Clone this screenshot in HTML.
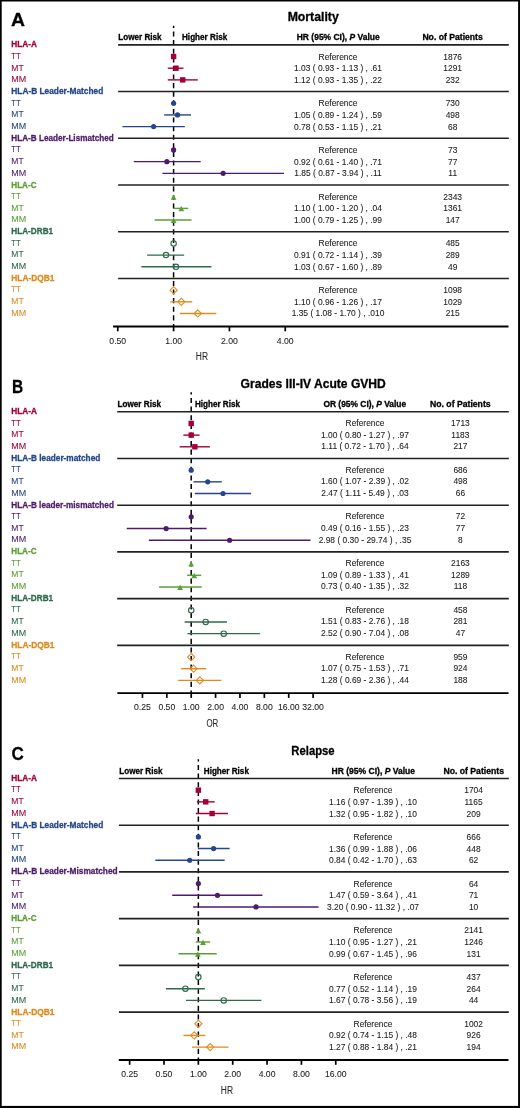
<!DOCTYPE html>
<html><head><meta charset="utf-8"><style>
html,body{margin:0;padding:0;background:#fff;}
svg{display:block;will-change:transform;}
text{font-family:"Liberation Sans",sans-serif;}
</style></head><body>
<svg width="520" height="1108" viewBox="0 0 520 1108">
<rect x="0" y="0" width="520" height="1108" fill="#fff"/>
<text x="10.90" y="26.45" font-size="19.0" font-weight="bold" fill="#000" stroke="#000" stroke-width="0.3" textLength="14.00" lengthAdjust="spacingAndGlyphs">A</text>
<text x="287.65" y="21.20" font-size="12.4" font-weight="bold" fill="#000" stroke="#000" stroke-width="0.3" textLength="51.10" lengthAdjust="spacingAndGlyphs">Mortality</text>
<text x="118.30" y="40.20" font-size="8.6" font-weight="bold" fill="#000" stroke="#000" stroke-width="0.3" textLength="43.20" lengthAdjust="spacingAndGlyphs">Lower Risk</text>
<text x="182.00" y="40.20" font-size="8.6" font-weight="bold" fill="#000" stroke="#000" stroke-width="0.3" textLength="45.20" lengthAdjust="spacingAndGlyphs">Higher Risk</text>
<text x="296.75" y="40.20" font-size="8.6" font-weight="bold" fill="#000" stroke="#000" stroke-width="0.3" textLength="82.90" lengthAdjust="spacingAndGlyphs">HR (95% CI), <tspan font-style="italic">P</tspan> Value</text>
<text x="422.40" y="40.20" font-size="8.6" font-weight="bold" fill="#000" stroke="#000" stroke-width="0.3" textLength="60.40" lengthAdjust="spacingAndGlyphs">No. of Patients</text>
<line x1="173.60" y1="25.80" x2="173.60" y2="326.50" stroke="#000" stroke-width="1.5" stroke-dasharray="5.1 3.5" stroke-dashoffset="2.9"/>
<line x1="118.10" y1="44.85" x2="508.80" y2="44.85" stroke="#222" stroke-width="1.6" />
<line x1="118.10" y1="91.57" x2="508.80" y2="91.57" stroke="#222" stroke-width="1.6" />
<line x1="118.10" y1="138.29" x2="508.80" y2="138.29" stroke="#222" stroke-width="1.6" />
<line x1="118.10" y1="185.01" x2="508.80" y2="185.01" stroke="#222" stroke-width="1.6" />
<line x1="118.10" y1="231.73" x2="508.80" y2="231.73" stroke="#222" stroke-width="1.6" />
<line x1="118.10" y1="278.45" x2="508.80" y2="278.45" stroke="#222" stroke-width="1.6" />
<line x1="113.10" y1="326.50" x2="508.50" y2="326.50" stroke="#000" stroke-width="1.8" />
<line x1="117.77" y1="326.50" x2="117.77" y2="331.30" stroke="#000" stroke-width="1.7" />
<text x="109.35" y="343.80" font-size="9.3" font-weight="normal" fill="#222" stroke="#222" stroke-width="0.08" textLength="16.83" lengthAdjust="spacingAndGlyphs">0.50</text>
<line x1="173.60" y1="326.50" x2="173.60" y2="331.30" stroke="#000" stroke-width="1.7" />
<text x="165.18" y="343.80" font-size="9.3" font-weight="normal" fill="#222" stroke="#222" stroke-width="0.08" textLength="16.83" lengthAdjust="spacingAndGlyphs">1.00</text>
<line x1="229.43" y1="326.50" x2="229.43" y2="331.30" stroke="#000" stroke-width="1.7" />
<text x="221.01" y="343.80" font-size="9.3" font-weight="normal" fill="#222" stroke="#222" stroke-width="0.08" textLength="16.83" lengthAdjust="spacingAndGlyphs">2.00</text>
<line x1="285.26" y1="326.50" x2="285.26" y2="331.30" stroke="#000" stroke-width="1.7" />
<text x="276.84" y="343.80" font-size="9.3" font-weight="normal" fill="#222" stroke="#222" stroke-width="0.08" textLength="16.83" lengthAdjust="spacingAndGlyphs">4.00</text>
<text x="195.80" y="360.30" font-size="11.7" font-weight="normal" fill="#2a2a2a" stroke="#2a2a2a" stroke-width="0.08" textLength="12.20" lengthAdjust="spacingAndGlyphs">HR</text>
<text x="11.30" y="47.35" font-size="9.2" font-weight="bold" fill="#A50034" stroke="#A50034" stroke-width="0.3" textLength="25.70" lengthAdjust="spacingAndGlyphs">HLA-A</text>
<text x="11.30" y="58.83" font-size="8.4" font-weight="normal" fill="#A50034" stroke="#A50034" stroke-width="0.08" textLength="9.40" lengthAdjust="spacingAndGlyphs">TT</text>
<text x="318.58" y="59.53" font-size="9.1" font-weight="normal" fill="#1a1a1a" stroke="#1a1a1a" stroke-width="0.08" textLength="38.84" lengthAdjust="spacingAndGlyphs">Reference</text>
<text x="443.34" y="59.53" font-size="9.1" font-weight="normal" fill="#1a1a1a" stroke="#1a1a1a" stroke-width="0.08" textLength="18.73" lengthAdjust="spacingAndGlyphs">1876</text>
<rect x="170.90" y="53.83" width="5.4" height="5.4" fill="#A50034"/>
<text x="11.30" y="70.51" font-size="8.4" font-weight="normal" fill="#A50034" stroke="#A50034" stroke-width="0.08" textLength="12.30" lengthAdjust="spacingAndGlyphs">MT</text>
<text x="294.02" y="71.21" font-size="9.1" font-weight="normal" fill="#1a1a1a" stroke="#1a1a1a" stroke-width="0.08" textLength="87.97" lengthAdjust="spacingAndGlyphs">1.03 ( 0.93 - 1.13 ) , .61</text>
<text x="443.34" y="71.21" font-size="9.1" font-weight="normal" fill="#1a1a1a" stroke="#1a1a1a" stroke-width="0.08" textLength="18.73" lengthAdjust="spacingAndGlyphs">1291</text>
<line x1="167.75" y1="68.21" x2="183.44" y2="68.21" stroke="#A50034" stroke-width="1.4" />
<rect x="173.28" y="65.51" width="5.4" height="5.4" fill="#A50034"/>
<text x="11.30" y="82.19" font-size="8.4" font-weight="normal" fill="#A50034" stroke="#A50034" stroke-width="0.08" textLength="14.90" lengthAdjust="spacingAndGlyphs">MM</text>
<text x="294.02" y="82.89" font-size="9.1" font-weight="normal" fill="#1a1a1a" stroke="#1a1a1a" stroke-width="0.08" textLength="87.97" lengthAdjust="spacingAndGlyphs">1.12 ( 0.93 - 1.35 ) , .22</text>
<text x="445.68" y="82.89" font-size="9.1" font-weight="normal" fill="#1a1a1a" stroke="#1a1a1a" stroke-width="0.08" textLength="14.04" lengthAdjust="spacingAndGlyphs">232</text>
<line x1="167.75" y1="79.89" x2="197.77" y2="79.89" stroke="#A50034" stroke-width="1.4" />
<rect x="180.03" y="77.19" width="5.4" height="5.4" fill="#A50034"/>
<text x="11.30" y="94.07" font-size="9.2" font-weight="bold" fill="#25468A" stroke="#25468A" stroke-width="0.3" textLength="92.00" lengthAdjust="spacingAndGlyphs">HLA-B Leader-Matched</text>
<text x="11.30" y="105.55" font-size="8.4" font-weight="normal" fill="#25468A" stroke="#25468A" stroke-width="0.08" textLength="9.40" lengthAdjust="spacingAndGlyphs">TT</text>
<text x="318.58" y="106.25" font-size="9.1" font-weight="normal" fill="#1a1a1a" stroke="#1a1a1a" stroke-width="0.08" textLength="38.84" lengthAdjust="spacingAndGlyphs">Reference</text>
<text x="445.68" y="106.25" font-size="9.1" font-weight="normal" fill="#1a1a1a" stroke="#1a1a1a" stroke-width="0.08" textLength="14.04" lengthAdjust="spacingAndGlyphs">730</text>
<circle cx="173.60" cy="103.25" r="2.6" fill="#25468A"/>
<text x="11.30" y="117.23" font-size="8.4" font-weight="normal" fill="#25468A" stroke="#25468A" stroke-width="0.08" textLength="12.30" lengthAdjust="spacingAndGlyphs">MT</text>
<text x="294.02" y="117.93" font-size="9.1" font-weight="normal" fill="#1a1a1a" stroke="#1a1a1a" stroke-width="0.08" textLength="87.97" lengthAdjust="spacingAndGlyphs">1.05 ( 0.89 - 1.24 ) , .59</text>
<text x="445.68" y="117.93" font-size="9.1" font-weight="normal" fill="#1a1a1a" stroke="#1a1a1a" stroke-width="0.08" textLength="14.04" lengthAdjust="spacingAndGlyphs">498</text>
<line x1="164.21" y1="114.93" x2="190.93" y2="114.93" stroke="#25468A" stroke-width="1.4" />
<circle cx="177.53" cy="114.93" r="2.6" fill="#25468A"/>
<text x="11.30" y="128.91" font-size="8.4" font-weight="normal" fill="#25468A" stroke="#25468A" stroke-width="0.08" textLength="14.90" lengthAdjust="spacingAndGlyphs">MM</text>
<text x="294.02" y="129.61" font-size="9.1" font-weight="normal" fill="#1a1a1a" stroke="#1a1a1a" stroke-width="0.08" textLength="87.97" lengthAdjust="spacingAndGlyphs">0.78 ( 0.53 - 1.15 ) , .21</text>
<text x="448.02" y="129.61" font-size="9.1" font-weight="normal" fill="#1a1a1a" stroke="#1a1a1a" stroke-width="0.08" textLength="9.36" lengthAdjust="spacingAndGlyphs">68</text>
<line x1="122.46" y1="126.61" x2="184.86" y2="126.61" stroke="#25468A" stroke-width="1.4" />
<circle cx="153.59" cy="126.61" r="2.6" fill="#25468A"/>
<text x="11.30" y="140.79" font-size="9.2" font-weight="bold" fill="#4E1A6A" stroke="#4E1A6A" stroke-width="0.3" textLength="102.40" lengthAdjust="spacingAndGlyphs">HLA-B Leader-Lismatched</text>
<text x="11.30" y="152.27" font-size="8.4" font-weight="normal" fill="#4E1A6A" stroke="#4E1A6A" stroke-width="0.08" textLength="9.40" lengthAdjust="spacingAndGlyphs">TT</text>
<text x="318.58" y="152.97" font-size="9.1" font-weight="normal" fill="#1a1a1a" stroke="#1a1a1a" stroke-width="0.08" textLength="38.84" lengthAdjust="spacingAndGlyphs">Reference</text>
<text x="448.02" y="152.97" font-size="9.1" font-weight="normal" fill="#1a1a1a" stroke="#1a1a1a" stroke-width="0.08" textLength="9.36" lengthAdjust="spacingAndGlyphs">73</text>
<circle cx="173.60" cy="149.97" r="2.6" fill="#4E1A6A"/>
<text x="11.30" y="163.95" font-size="8.4" font-weight="normal" fill="#4E1A6A" stroke="#4E1A6A" stroke-width="0.08" textLength="12.30" lengthAdjust="spacingAndGlyphs">MT</text>
<text x="294.02" y="164.65" font-size="9.1" font-weight="normal" fill="#1a1a1a" stroke="#1a1a1a" stroke-width="0.08" textLength="87.97" lengthAdjust="spacingAndGlyphs">0.92 ( 0.61 - 1.40 ) , .71</text>
<text x="448.02" y="164.65" font-size="9.1" font-weight="normal" fill="#1a1a1a" stroke="#1a1a1a" stroke-width="0.08" textLength="9.36" lengthAdjust="spacingAndGlyphs">77</text>
<line x1="133.79" y1="161.65" x2="200.70" y2="161.65" stroke="#4E1A6A" stroke-width="1.4" />
<circle cx="166.88" cy="161.65" r="2.6" fill="#4E1A6A"/>
<text x="11.30" y="175.63" font-size="8.4" font-weight="normal" fill="#4E1A6A" stroke="#4E1A6A" stroke-width="0.08" textLength="14.90" lengthAdjust="spacingAndGlyphs">MM</text>
<text x="294.33" y="176.33" font-size="9.1" font-weight="normal" fill="#1a1a1a" stroke="#1a1a1a" stroke-width="0.08" textLength="87.34" lengthAdjust="spacingAndGlyphs">1.85 ( 0.87 - 3.94 ) , .11</text>
<text x="448.33" y="176.33" font-size="9.1" font-weight="normal" fill="#1a1a1a" stroke="#1a1a1a" stroke-width="0.08" textLength="8.74" lengthAdjust="spacingAndGlyphs">11</text>
<line x1="162.38" y1="173.33" x2="284.04" y2="173.33" stroke="#4E1A6A" stroke-width="1.4" />
<circle cx="223.15" cy="173.33" r="2.6" fill="#4E1A6A"/>
<text x="11.30" y="187.51" font-size="9.2" font-weight="bold" fill="#5A9F35" stroke="#5A9F35" stroke-width="0.3" textLength="25.20" lengthAdjust="spacingAndGlyphs">HLA-C</text>
<text x="11.30" y="198.99" font-size="8.4" font-weight="normal" fill="#5A9F35" stroke="#5A9F35" stroke-width="0.08" textLength="9.40" lengthAdjust="spacingAndGlyphs">TT</text>
<text x="318.58" y="199.69" font-size="9.1" font-weight="normal" fill="#1a1a1a" stroke="#1a1a1a" stroke-width="0.08" textLength="38.84" lengthAdjust="spacingAndGlyphs">Reference</text>
<text x="443.34" y="199.69" font-size="9.1" font-weight="normal" fill="#1a1a1a" stroke="#1a1a1a" stroke-width="0.08" textLength="18.73" lengthAdjust="spacingAndGlyphs">2343</text>
<polygon points="173.60,194.44 176.50,199.64 170.70,199.64" fill="#5A9F35"/>
<text x="11.30" y="210.67" font-size="8.4" font-weight="normal" fill="#5A9F35" stroke="#5A9F35" stroke-width="0.08" textLength="12.30" lengthAdjust="spacingAndGlyphs">MT</text>
<text x="294.02" y="211.37" font-size="9.1" font-weight="normal" fill="#1a1a1a" stroke="#1a1a1a" stroke-width="0.08" textLength="87.97" lengthAdjust="spacingAndGlyphs">1.10 ( 1.00 - 1.20 ) , .04</text>
<text x="443.34" y="211.37" font-size="9.1" font-weight="normal" fill="#1a1a1a" stroke="#1a1a1a" stroke-width="0.08" textLength="18.73" lengthAdjust="spacingAndGlyphs">1361</text>
<line x1="173.60" y1="208.37" x2="188.29" y2="208.37" stroke="#5A9F35" stroke-width="1.4" />
<polygon points="181.28,206.12 184.18,211.32 178.38,211.32" fill="#5A9F35"/>
<text x="11.30" y="222.35" font-size="8.4" font-weight="normal" fill="#5A9F35" stroke="#5A9F35" stroke-width="0.08" textLength="14.90" lengthAdjust="spacingAndGlyphs">MM</text>
<text x="294.02" y="223.05" font-size="9.1" font-weight="normal" fill="#1a1a1a" stroke="#1a1a1a" stroke-width="0.08" textLength="87.97" lengthAdjust="spacingAndGlyphs">1.00 ( 0.79 - 1.25 ) , .99</text>
<text x="445.68" y="223.05" font-size="9.1" font-weight="normal" fill="#1a1a1a" stroke="#1a1a1a" stroke-width="0.08" textLength="14.04" lengthAdjust="spacingAndGlyphs">147</text>
<line x1="154.61" y1="220.05" x2="191.57" y2="220.05" stroke="#5A9F35" stroke-width="1.4" />
<polygon points="173.60,217.80 176.50,223.00 170.70,223.00" fill="#5A9F35"/>
<text x="11.30" y="234.23" font-size="9.2" font-weight="bold" fill="#2F6A4C" stroke="#2F6A4C" stroke-width="0.3" textLength="41.80" lengthAdjust="spacingAndGlyphs">HLA-DRB1</text>
<text x="11.30" y="245.71" font-size="8.4" font-weight="normal" fill="#2F6A4C" stroke="#2F6A4C" stroke-width="0.08" textLength="9.40" lengthAdjust="spacingAndGlyphs">TT</text>
<text x="318.58" y="246.41" font-size="9.1" font-weight="normal" fill="#1a1a1a" stroke="#1a1a1a" stroke-width="0.08" textLength="38.84" lengthAdjust="spacingAndGlyphs">Reference</text>
<text x="445.68" y="246.41" font-size="9.1" font-weight="normal" fill="#1a1a1a" stroke="#1a1a1a" stroke-width="0.08" textLength="14.04" lengthAdjust="spacingAndGlyphs">485</text>
<circle cx="173.60" cy="243.41" r="2.7" fill="none" stroke="#2F6A4C" stroke-width="1.15"/>
<text x="11.30" y="257.39" font-size="8.4" font-weight="normal" fill="#2F6A4C" stroke="#2F6A4C" stroke-width="0.08" textLength="12.30" lengthAdjust="spacingAndGlyphs">MT</text>
<text x="294.02" y="258.09" font-size="9.1" font-weight="normal" fill="#1a1a1a" stroke="#1a1a1a" stroke-width="0.08" textLength="87.97" lengthAdjust="spacingAndGlyphs">0.91 ( 0.72 - 1.14 ) , .39</text>
<text x="445.68" y="258.09" font-size="9.1" font-weight="normal" fill="#1a1a1a" stroke="#1a1a1a" stroke-width="0.08" textLength="14.04" lengthAdjust="spacingAndGlyphs">289</text>
<line x1="147.14" y1="255.09" x2="184.15" y2="255.09" stroke="#2F6A4C" stroke-width="1.4" />
<circle cx="166.00" cy="255.09" r="2.7" fill="none" stroke="#2F6A4C" stroke-width="1.15"/>
<text x="11.30" y="269.07" font-size="8.4" font-weight="normal" fill="#2F6A4C" stroke="#2F6A4C" stroke-width="0.08" textLength="14.90" lengthAdjust="spacingAndGlyphs">MM</text>
<text x="294.02" y="269.77" font-size="9.1" font-weight="normal" fill="#1a1a1a" stroke="#1a1a1a" stroke-width="0.08" textLength="87.97" lengthAdjust="spacingAndGlyphs">1.03 ( 0.67 - 1.60 ) , .89</text>
<text x="448.02" y="269.77" font-size="9.1" font-weight="normal" fill="#1a1a1a" stroke="#1a1a1a" stroke-width="0.08" textLength="9.36" lengthAdjust="spacingAndGlyphs">49</text>
<line x1="141.34" y1="266.77" x2="211.46" y2="266.77" stroke="#2F6A4C" stroke-width="1.4" />
<circle cx="175.98" cy="266.77" r="2.7" fill="none" stroke="#2F6A4C" stroke-width="1.15"/>
<text x="11.30" y="280.95" font-size="9.2" font-weight="bold" fill="#DE8B1F" stroke="#DE8B1F" stroke-width="0.3" textLength="43.20" lengthAdjust="spacingAndGlyphs">HLA-DQB1</text>
<text x="11.30" y="292.43" font-size="8.4" font-weight="normal" fill="#DE8B1F" stroke="#DE8B1F" stroke-width="0.08" textLength="9.40" lengthAdjust="spacingAndGlyphs">TT</text>
<text x="318.58" y="293.13" font-size="9.1" font-weight="normal" fill="#1a1a1a" stroke="#1a1a1a" stroke-width="0.08" textLength="38.84" lengthAdjust="spacingAndGlyphs">Reference</text>
<text x="443.34" y="293.13" font-size="9.1" font-weight="normal" fill="#1a1a1a" stroke="#1a1a1a" stroke-width="0.08" textLength="18.73" lengthAdjust="spacingAndGlyphs">1098</text>
<polygon points="173.60,286.53 177.20,290.13 173.60,293.73 170.00,290.13" fill="none" stroke="#DE8B1F" stroke-width="1.1"/>
<text x="11.30" y="304.11" font-size="8.4" font-weight="normal" fill="#DE8B1F" stroke="#DE8B1F" stroke-width="0.08" textLength="12.30" lengthAdjust="spacingAndGlyphs">MT</text>
<text x="294.02" y="304.81" font-size="9.1" font-weight="normal" fill="#1a1a1a" stroke="#1a1a1a" stroke-width="0.08" textLength="87.97" lengthAdjust="spacingAndGlyphs">1.10 ( 0.96 - 1.26 ) , .17</text>
<text x="443.34" y="304.81" font-size="9.1" font-weight="normal" fill="#1a1a1a" stroke="#1a1a1a" stroke-width="0.08" textLength="18.73" lengthAdjust="spacingAndGlyphs">1029</text>
<line x1="170.31" y1="301.81" x2="192.22" y2="301.81" stroke="#DE8B1F" stroke-width="1.4" />
<polygon points="181.28,298.21 184.88,301.81 181.28,305.41 177.68,301.81" fill="none" stroke="#DE8B1F" stroke-width="1.1"/>
<text x="11.30" y="315.79" font-size="8.4" font-weight="normal" fill="#DE8B1F" stroke="#DE8B1F" stroke-width="0.08" textLength="14.90" lengthAdjust="spacingAndGlyphs">MM</text>
<text x="291.67" y="316.49" font-size="9.1" font-weight="normal" fill="#1a1a1a" stroke="#1a1a1a" stroke-width="0.08" textLength="92.65" lengthAdjust="spacingAndGlyphs">1.35 ( 1.08 - 1.70 ) , .010</text>
<text x="445.68" y="316.49" font-size="9.1" font-weight="normal" fill="#1a1a1a" stroke="#1a1a1a" stroke-width="0.08" textLength="14.04" lengthAdjust="spacingAndGlyphs">215</text>
<line x1="179.80" y1="313.49" x2="216.34" y2="313.49" stroke="#DE8B1F" stroke-width="1.4" />
<polygon points="197.77,309.89 201.37,313.49 197.77,317.09 194.17,313.49" fill="none" stroke="#DE8B1F" stroke-width="1.1"/>
<text x="11.90" y="393.20" font-size="19.0" font-weight="bold" fill="#000" stroke="#000" stroke-width="0.3" textLength="11.20" lengthAdjust="spacingAndGlyphs">B</text>
<text x="240.60" y="387.90" font-size="12.4" font-weight="bold" fill="#000" stroke="#000" stroke-width="0.3" textLength="145.20" lengthAdjust="spacingAndGlyphs">Grades III-IV Acute GVHD</text>
<text x="117.50" y="406.60" font-size="8.6" font-weight="bold" fill="#000" stroke="#000" stroke-width="0.3" textLength="43.50" lengthAdjust="spacingAndGlyphs">Lower Risk</text>
<text x="194.90" y="406.60" font-size="8.6" font-weight="bold" fill="#000" stroke="#000" stroke-width="0.3" textLength="45.10" lengthAdjust="spacingAndGlyphs">Higher Risk</text>
<text x="323.40" y="406.60" font-size="8.6" font-weight="bold" fill="#000" stroke="#000" stroke-width="0.3" textLength="82.80" lengthAdjust="spacingAndGlyphs">OR (95% CI), <tspan font-style="italic">P</tspan> Value</text>
<text x="430.00" y="406.60" font-size="8.6" font-weight="bold" fill="#000" stroke="#000" stroke-width="0.3" textLength="60.60" lengthAdjust="spacingAndGlyphs">No. of Patients</text>
<line x1="191.20" y1="392.30" x2="191.20" y2="693.10" stroke="#000" stroke-width="1.5" stroke-dasharray="5.1 3.5" stroke-dashoffset="2.9"/>
<line x1="117.20" y1="411.75" x2="508.80" y2="411.75" stroke="#222" stroke-width="1.6" />
<line x1="117.20" y1="458.47" x2="508.80" y2="458.47" stroke="#222" stroke-width="1.6" />
<line x1="117.20" y1="505.19" x2="508.80" y2="505.19" stroke="#222" stroke-width="1.6" />
<line x1="117.20" y1="551.91" x2="508.80" y2="551.91" stroke="#222" stroke-width="1.6" />
<line x1="117.20" y1="598.63" x2="508.80" y2="598.63" stroke="#222" stroke-width="1.6" />
<line x1="117.20" y1="645.35" x2="508.80" y2="645.35" stroke="#222" stroke-width="1.6" />
<line x1="117.30" y1="693.10" x2="508.50" y2="693.10" stroke="#000" stroke-width="1.8" />
<line x1="142.44" y1="693.10" x2="142.44" y2="697.90" stroke="#000" stroke-width="1.7" />
<text x="134.02" y="710.40" font-size="9.3" font-weight="normal" fill="#222" stroke="#222" stroke-width="0.08" textLength="16.83" lengthAdjust="spacingAndGlyphs">0.25</text>
<line x1="166.82" y1="693.10" x2="166.82" y2="697.90" stroke="#000" stroke-width="1.7" />
<text x="158.40" y="710.40" font-size="9.3" font-weight="normal" fill="#222" stroke="#222" stroke-width="0.08" textLength="16.83" lengthAdjust="spacingAndGlyphs">0.50</text>
<line x1="191.20" y1="693.10" x2="191.20" y2="697.90" stroke="#000" stroke-width="1.7" />
<text x="182.78" y="710.40" font-size="9.3" font-weight="normal" fill="#222" stroke="#222" stroke-width="0.08" textLength="16.83" lengthAdjust="spacingAndGlyphs">1.00</text>
<line x1="215.58" y1="693.10" x2="215.58" y2="697.90" stroke="#000" stroke-width="1.7" />
<text x="207.16" y="710.40" font-size="9.3" font-weight="normal" fill="#222" stroke="#222" stroke-width="0.08" textLength="16.83" lengthAdjust="spacingAndGlyphs">2.00</text>
<line x1="239.96" y1="693.10" x2="239.96" y2="697.90" stroke="#000" stroke-width="1.7" />
<text x="231.54" y="710.40" font-size="9.3" font-weight="normal" fill="#222" stroke="#222" stroke-width="0.08" textLength="16.83" lengthAdjust="spacingAndGlyphs">4.00</text>
<line x1="264.34" y1="693.10" x2="264.34" y2="697.90" stroke="#000" stroke-width="1.7" />
<text x="255.92" y="710.40" font-size="9.3" font-weight="normal" fill="#222" stroke="#222" stroke-width="0.08" textLength="16.83" lengthAdjust="spacingAndGlyphs">8.00</text>
<line x1="288.72" y1="693.10" x2="288.72" y2="697.90" stroke="#000" stroke-width="1.7" />
<text x="277.90" y="710.40" font-size="9.3" font-weight="normal" fill="#222" stroke="#222" stroke-width="0.08" textLength="21.64" lengthAdjust="spacingAndGlyphs">16.00</text>
<line x1="313.10" y1="693.10" x2="313.10" y2="697.90" stroke="#000" stroke-width="1.7" />
<text x="302.28" y="710.40" font-size="9.3" font-weight="normal" fill="#222" stroke="#222" stroke-width="0.08" textLength="21.64" lengthAdjust="spacingAndGlyphs">32.00</text>
<text x="206.40" y="727.20" font-size="11.7" font-weight="normal" fill="#2a2a2a" stroke="#2a2a2a" stroke-width="0.08" textLength="11.90" lengthAdjust="spacingAndGlyphs">OR</text>
<text x="11.30" y="414.10" font-size="9.2" font-weight="bold" fill="#A50034" stroke="#A50034" stroke-width="0.3" textLength="25.70" lengthAdjust="spacingAndGlyphs">HLA-A</text>
<text x="11.30" y="425.58" font-size="8.4" font-weight="normal" fill="#A50034" stroke="#A50034" stroke-width="0.08" textLength="9.40" lengthAdjust="spacingAndGlyphs">TT</text>
<text x="345.58" y="425.93" font-size="9.1" font-weight="normal" fill="#1a1a1a" stroke="#1a1a1a" stroke-width="0.08" textLength="38.84" lengthAdjust="spacingAndGlyphs">Reference</text>
<text x="451.04" y="425.93" font-size="9.1" font-weight="normal" fill="#1a1a1a" stroke="#1a1a1a" stroke-width="0.08" textLength="18.73" lengthAdjust="spacingAndGlyphs">1713</text>
<rect x="188.50" y="420.73" width="5.4" height="5.4" fill="#A50034"/>
<text x="11.30" y="437.26" font-size="8.4" font-weight="normal" fill="#A50034" stroke="#A50034" stroke-width="0.08" textLength="12.30" lengthAdjust="spacingAndGlyphs">MT</text>
<text x="321.02" y="437.61" font-size="9.1" font-weight="normal" fill="#1a1a1a" stroke="#1a1a1a" stroke-width="0.08" textLength="87.97" lengthAdjust="spacingAndGlyphs">1.00 ( 0.80 - 1.27 ) , .97</text>
<text x="451.35" y="437.61" font-size="9.1" font-weight="normal" fill="#1a1a1a" stroke="#1a1a1a" stroke-width="0.08" textLength="18.10" lengthAdjust="spacingAndGlyphs">1183</text>
<line x1="183.35" y1="435.11" x2="199.61" y2="435.11" stroke="#A50034" stroke-width="1.4" />
<rect x="188.50" y="432.41" width="5.4" height="5.4" fill="#A50034"/>
<text x="11.30" y="448.94" font-size="8.4" font-weight="normal" fill="#A50034" stroke="#A50034" stroke-width="0.08" textLength="14.90" lengthAdjust="spacingAndGlyphs">MM</text>
<text x="321.33" y="449.29" font-size="9.1" font-weight="normal" fill="#1a1a1a" stroke="#1a1a1a" stroke-width="0.08" textLength="87.34" lengthAdjust="spacingAndGlyphs">1.11 ( 0.72 - 1.70 ) , .64</text>
<text x="453.38" y="449.29" font-size="9.1" font-weight="normal" fill="#1a1a1a" stroke="#1a1a1a" stroke-width="0.08" textLength="14.04" lengthAdjust="spacingAndGlyphs">217</text>
<line x1="179.65" y1="446.79" x2="209.86" y2="446.79" stroke="#A50034" stroke-width="1.4" />
<rect x="192.17" y="444.09" width="5.4" height="5.4" fill="#A50034"/>
<text x="11.30" y="460.82" font-size="9.2" font-weight="bold" fill="#25468A" stroke="#25468A" stroke-width="0.3" textLength="89.00" lengthAdjust="spacingAndGlyphs">HLA-B leader-matched</text>
<text x="11.30" y="472.30" font-size="8.4" font-weight="normal" fill="#25468A" stroke="#25468A" stroke-width="0.08" textLength="9.40" lengthAdjust="spacingAndGlyphs">TT</text>
<text x="345.58" y="472.65" font-size="9.1" font-weight="normal" fill="#1a1a1a" stroke="#1a1a1a" stroke-width="0.08" textLength="38.84" lengthAdjust="spacingAndGlyphs">Reference</text>
<text x="453.38" y="472.65" font-size="9.1" font-weight="normal" fill="#1a1a1a" stroke="#1a1a1a" stroke-width="0.08" textLength="14.04" lengthAdjust="spacingAndGlyphs">686</text>
<circle cx="191.20" cy="470.15" r="2.6" fill="#25468A"/>
<text x="11.30" y="483.98" font-size="8.4" font-weight="normal" fill="#25468A" stroke="#25468A" stroke-width="0.08" textLength="12.30" lengthAdjust="spacingAndGlyphs">MT</text>
<text x="321.02" y="484.33" font-size="9.1" font-weight="normal" fill="#1a1a1a" stroke="#1a1a1a" stroke-width="0.08" textLength="87.97" lengthAdjust="spacingAndGlyphs">1.60 ( 1.07 - 2.39 ) , .02</text>
<text x="453.38" y="484.33" font-size="9.1" font-weight="normal" fill="#1a1a1a" stroke="#1a1a1a" stroke-width="0.08" textLength="14.04" lengthAdjust="spacingAndGlyphs">498</text>
<line x1="193.58" y1="481.83" x2="221.85" y2="481.83" stroke="#25468A" stroke-width="1.4" />
<circle cx="207.73" cy="481.83" r="2.6" fill="#25468A"/>
<text x="11.30" y="495.66" font-size="8.4" font-weight="normal" fill="#25468A" stroke="#25468A" stroke-width="0.08" textLength="14.90" lengthAdjust="spacingAndGlyphs">MM</text>
<text x="321.33" y="496.01" font-size="9.1" font-weight="normal" fill="#1a1a1a" stroke="#1a1a1a" stroke-width="0.08" textLength="87.34" lengthAdjust="spacingAndGlyphs">2.47 ( 1.11 - 5.49 ) , .03</text>
<text x="455.72" y="496.01" font-size="9.1" font-weight="normal" fill="#1a1a1a" stroke="#1a1a1a" stroke-width="0.08" textLength="9.36" lengthAdjust="spacingAndGlyphs">66</text>
<line x1="194.87" y1="493.51" x2="251.10" y2="493.51" stroke="#25468A" stroke-width="1.4" />
<circle cx="223.00" cy="493.51" r="2.6" fill="#25468A"/>
<text x="11.30" y="507.54" font-size="9.2" font-weight="bold" fill="#4E1A6A" stroke="#4E1A6A" stroke-width="0.3" textLength="102.60" lengthAdjust="spacingAndGlyphs">HLA-B leader-mismatched</text>
<text x="11.30" y="519.02" font-size="8.4" font-weight="normal" fill="#4E1A6A" stroke="#4E1A6A" stroke-width="0.08" textLength="9.40" lengthAdjust="spacingAndGlyphs">TT</text>
<text x="345.58" y="519.37" font-size="9.1" font-weight="normal" fill="#1a1a1a" stroke="#1a1a1a" stroke-width="0.08" textLength="38.84" lengthAdjust="spacingAndGlyphs">Reference</text>
<text x="455.72" y="519.37" font-size="9.1" font-weight="normal" fill="#1a1a1a" stroke="#1a1a1a" stroke-width="0.08" textLength="9.36" lengthAdjust="spacingAndGlyphs">72</text>
<circle cx="191.20" cy="516.87" r="2.6" fill="#4E1A6A"/>
<text x="11.30" y="530.70" font-size="8.4" font-weight="normal" fill="#4E1A6A" stroke="#4E1A6A" stroke-width="0.08" textLength="12.30" lengthAdjust="spacingAndGlyphs">MT</text>
<text x="321.02" y="531.05" font-size="9.1" font-weight="normal" fill="#1a1a1a" stroke="#1a1a1a" stroke-width="0.08" textLength="87.97" lengthAdjust="spacingAndGlyphs">0.49 ( 0.16 - 1.55 ) , .23</text>
<text x="455.72" y="531.05" font-size="9.1" font-weight="normal" fill="#1a1a1a" stroke="#1a1a1a" stroke-width="0.08" textLength="9.36" lengthAdjust="spacingAndGlyphs">77</text>
<line x1="126.74" y1="528.55" x2="206.61" y2="528.55" stroke="#4E1A6A" stroke-width="1.4" />
<circle cx="166.11" cy="528.55" r="2.6" fill="#4E1A6A"/>
<text x="11.30" y="542.38" font-size="8.4" font-weight="normal" fill="#4E1A6A" stroke="#4E1A6A" stroke-width="0.08" textLength="14.90" lengthAdjust="spacingAndGlyphs">MM</text>
<text x="318.67" y="542.73" font-size="9.1" font-weight="normal" fill="#1a1a1a" stroke="#1a1a1a" stroke-width="0.08" textLength="92.65" lengthAdjust="spacingAndGlyphs">2.98 ( 0.30 - 29.74 ) , .35</text>
<text x="458.06" y="542.73" font-size="9.1" font-weight="normal" fill="#1a1a1a" stroke="#1a1a1a" stroke-width="0.08" textLength="4.68" lengthAdjust="spacingAndGlyphs">8</text>
<line x1="148.85" y1="540.23" x2="310.52" y2="540.23" stroke="#4E1A6A" stroke-width="1.4" />
<circle cx="229.61" cy="540.23" r="2.6" fill="#4E1A6A"/>
<text x="11.30" y="554.26" font-size="9.2" font-weight="bold" fill="#5A9F35" stroke="#5A9F35" stroke-width="0.3" textLength="25.20" lengthAdjust="spacingAndGlyphs">HLA-C</text>
<text x="11.30" y="565.74" font-size="8.4" font-weight="normal" fill="#5A9F35" stroke="#5A9F35" stroke-width="0.08" textLength="9.40" lengthAdjust="spacingAndGlyphs">TT</text>
<text x="345.58" y="566.09" font-size="9.1" font-weight="normal" fill="#1a1a1a" stroke="#1a1a1a" stroke-width="0.08" textLength="38.84" lengthAdjust="spacingAndGlyphs">Reference</text>
<text x="451.04" y="566.09" font-size="9.1" font-weight="normal" fill="#1a1a1a" stroke="#1a1a1a" stroke-width="0.08" textLength="18.73" lengthAdjust="spacingAndGlyphs">2163</text>
<polygon points="191.20,561.34 194.10,566.54 188.30,566.54" fill="#5A9F35"/>
<text x="11.30" y="577.42" font-size="8.4" font-weight="normal" fill="#5A9F35" stroke="#5A9F35" stroke-width="0.08" textLength="12.30" lengthAdjust="spacingAndGlyphs">MT</text>
<text x="321.02" y="577.77" font-size="9.1" font-weight="normal" fill="#1a1a1a" stroke="#1a1a1a" stroke-width="0.08" textLength="87.97" lengthAdjust="spacingAndGlyphs">1.09 ( 0.89 - 1.33 ) , .41</text>
<text x="451.04" y="577.77" font-size="9.1" font-weight="normal" fill="#1a1a1a" stroke="#1a1a1a" stroke-width="0.08" textLength="18.73" lengthAdjust="spacingAndGlyphs">1289</text>
<line x1="187.10" y1="575.27" x2="201.23" y2="575.27" stroke="#5A9F35" stroke-width="1.4" />
<polygon points="194.23,573.02 197.13,578.22 191.33,578.22" fill="#5A9F35"/>
<text x="11.30" y="589.10" font-size="8.4" font-weight="normal" fill="#5A9F35" stroke="#5A9F35" stroke-width="0.08" textLength="14.90" lengthAdjust="spacingAndGlyphs">MM</text>
<text x="321.02" y="589.45" font-size="9.1" font-weight="normal" fill="#1a1a1a" stroke="#1a1a1a" stroke-width="0.08" textLength="87.97" lengthAdjust="spacingAndGlyphs">0.73 ( 0.40 - 1.35 ) , .32</text>
<text x="453.69" y="589.45" font-size="9.1" font-weight="normal" fill="#1a1a1a" stroke="#1a1a1a" stroke-width="0.08" textLength="13.42" lengthAdjust="spacingAndGlyphs">118</text>
<line x1="158.97" y1="586.95" x2="201.76" y2="586.95" stroke="#5A9F35" stroke-width="1.4" />
<polygon points="180.13,584.70 183.03,589.90 177.23,589.90" fill="#5A9F35"/>
<text x="11.30" y="600.98" font-size="9.2" font-weight="bold" fill="#2F6A4C" stroke="#2F6A4C" stroke-width="0.3" textLength="41.80" lengthAdjust="spacingAndGlyphs">HLA-DRB1</text>
<text x="11.30" y="612.46" font-size="8.4" font-weight="normal" fill="#2F6A4C" stroke="#2F6A4C" stroke-width="0.08" textLength="9.40" lengthAdjust="spacingAndGlyphs">TT</text>
<text x="345.58" y="612.81" font-size="9.1" font-weight="normal" fill="#1a1a1a" stroke="#1a1a1a" stroke-width="0.08" textLength="38.84" lengthAdjust="spacingAndGlyphs">Reference</text>
<text x="453.38" y="612.81" font-size="9.1" font-weight="normal" fill="#1a1a1a" stroke="#1a1a1a" stroke-width="0.08" textLength="14.04" lengthAdjust="spacingAndGlyphs">458</text>
<circle cx="191.20" cy="610.31" r="2.7" fill="none" stroke="#2F6A4C" stroke-width="1.15"/>
<text x="11.30" y="624.14" font-size="8.4" font-weight="normal" fill="#2F6A4C" stroke="#2F6A4C" stroke-width="0.08" textLength="12.30" lengthAdjust="spacingAndGlyphs">MT</text>
<text x="321.02" y="624.49" font-size="9.1" font-weight="normal" fill="#1a1a1a" stroke="#1a1a1a" stroke-width="0.08" textLength="87.97" lengthAdjust="spacingAndGlyphs">1.51 ( 0.83 - 2.76 ) , .18</text>
<text x="453.38" y="624.49" font-size="9.1" font-weight="normal" fill="#1a1a1a" stroke="#1a1a1a" stroke-width="0.08" textLength="14.04" lengthAdjust="spacingAndGlyphs">281</text>
<line x1="184.65" y1="621.99" x2="226.91" y2="621.99" stroke="#2F6A4C" stroke-width="1.4" />
<circle cx="205.70" cy="621.99" r="2.7" fill="none" stroke="#2F6A4C" stroke-width="1.15"/>
<text x="11.30" y="635.82" font-size="8.4" font-weight="normal" fill="#2F6A4C" stroke="#2F6A4C" stroke-width="0.08" textLength="14.90" lengthAdjust="spacingAndGlyphs">MM</text>
<text x="321.02" y="636.17" font-size="9.1" font-weight="normal" fill="#1a1a1a" stroke="#1a1a1a" stroke-width="0.08" textLength="87.97" lengthAdjust="spacingAndGlyphs">2.52 ( 0.90 - 7.04 ) , .08</text>
<text x="455.72" y="636.17" font-size="9.1" font-weight="normal" fill="#1a1a1a" stroke="#1a1a1a" stroke-width="0.08" textLength="9.36" lengthAdjust="spacingAndGlyphs">47</text>
<line x1="187.49" y1="633.67" x2="259.84" y2="633.67" stroke="#2F6A4C" stroke-width="1.4" />
<circle cx="223.71" cy="633.67" r="2.7" fill="none" stroke="#2F6A4C" stroke-width="1.15"/>
<text x="11.30" y="647.70" font-size="9.2" font-weight="bold" fill="#DE8B1F" stroke="#DE8B1F" stroke-width="0.3" textLength="43.20" lengthAdjust="spacingAndGlyphs">HLA-DQB1</text>
<text x="11.30" y="659.18" font-size="8.4" font-weight="normal" fill="#DE8B1F" stroke="#DE8B1F" stroke-width="0.08" textLength="9.40" lengthAdjust="spacingAndGlyphs">TT</text>
<text x="345.58" y="659.53" font-size="9.1" font-weight="normal" fill="#1a1a1a" stroke="#1a1a1a" stroke-width="0.08" textLength="38.84" lengthAdjust="spacingAndGlyphs">Reference</text>
<text x="453.38" y="659.53" font-size="9.1" font-weight="normal" fill="#1a1a1a" stroke="#1a1a1a" stroke-width="0.08" textLength="14.04" lengthAdjust="spacingAndGlyphs">959</text>
<polygon points="191.20,653.43 194.80,657.03 191.20,660.63 187.60,657.03" fill="none" stroke="#DE8B1F" stroke-width="1.1"/>
<text x="11.30" y="670.86" font-size="8.4" font-weight="normal" fill="#DE8B1F" stroke="#DE8B1F" stroke-width="0.08" textLength="12.30" lengthAdjust="spacingAndGlyphs">MT</text>
<text x="321.02" y="671.21" font-size="9.1" font-weight="normal" fill="#1a1a1a" stroke="#1a1a1a" stroke-width="0.08" textLength="87.97" lengthAdjust="spacingAndGlyphs">1.07 ( 0.75 - 1.53 ) , .71</text>
<text x="453.38" y="671.21" font-size="9.1" font-weight="normal" fill="#1a1a1a" stroke="#1a1a1a" stroke-width="0.08" textLength="14.04" lengthAdjust="spacingAndGlyphs">924</text>
<line x1="181.08" y1="668.71" x2="206.16" y2="668.71" stroke="#DE8B1F" stroke-width="1.4" />
<polygon points="193.58,665.11 197.18,668.71 193.58,672.31 189.98,668.71" fill="none" stroke="#DE8B1F" stroke-width="1.1"/>
<text x="11.30" y="682.54" font-size="8.4" font-weight="normal" fill="#DE8B1F" stroke="#DE8B1F" stroke-width="0.08" textLength="14.90" lengthAdjust="spacingAndGlyphs">MM</text>
<text x="321.02" y="682.89" font-size="9.1" font-weight="normal" fill="#1a1a1a" stroke="#1a1a1a" stroke-width="0.08" textLength="87.97" lengthAdjust="spacingAndGlyphs">1.28 ( 0.69 - 2.36 ) , .44</text>
<text x="453.38" y="682.89" font-size="9.1" font-weight="normal" fill="#1a1a1a" stroke="#1a1a1a" stroke-width="0.08" textLength="14.04" lengthAdjust="spacingAndGlyphs">188</text>
<line x1="178.15" y1="680.39" x2="221.40" y2="680.39" stroke="#DE8B1F" stroke-width="1.4" />
<polygon points="199.88,676.79 203.48,680.39 199.88,683.99 196.28,680.39" fill="none" stroke="#DE8B1F" stroke-width="1.1"/>
<text x="11.40" y="759.90" font-size="19.0" font-weight="bold" fill="#000" stroke="#000" stroke-width="0.3" textLength="12.30" lengthAdjust="spacingAndGlyphs">C</text>
<text x="291.35" y="754.80" font-size="12.4" font-weight="bold" fill="#000" stroke="#000" stroke-width="0.3" textLength="43.30" lengthAdjust="spacingAndGlyphs">Relapse</text>
<text x="119.25" y="773.70" font-size="8.6" font-weight="bold" fill="#000" stroke="#000" stroke-width="0.3" textLength="43.25" lengthAdjust="spacingAndGlyphs">Lower Risk</text>
<text x="203.80" y="773.70" font-size="8.6" font-weight="bold" fill="#000" stroke="#000" stroke-width="0.3" textLength="45.10" lengthAdjust="spacingAndGlyphs">Higher Risk</text>
<text x="331.50" y="773.70" font-size="8.6" font-weight="bold" fill="#000" stroke="#000" stroke-width="0.3" textLength="83.60" lengthAdjust="spacingAndGlyphs">HR (95% CI), <tspan font-style="italic">P</tspan> Value</text>
<text x="443.40" y="773.70" font-size="8.6" font-weight="bold" fill="#000" stroke="#000" stroke-width="0.3" textLength="60.60" lengthAdjust="spacingAndGlyphs">No. of Patients</text>
<line x1="198.35" y1="759.30" x2="198.35" y2="1060.00" stroke="#000" stroke-width="1.5" stroke-dasharray="5.1 3.5" stroke-dashoffset="2.9"/>
<line x1="118.90" y1="778.48" x2="508.80" y2="778.48" stroke="#222" stroke-width="1.6" />
<line x1="118.90" y1="825.20" x2="508.80" y2="825.20" stroke="#222" stroke-width="1.6" />
<line x1="118.90" y1="871.92" x2="508.80" y2="871.92" stroke="#222" stroke-width="1.6" />
<line x1="118.90" y1="918.64" x2="508.80" y2="918.64" stroke="#222" stroke-width="1.6" />
<line x1="118.90" y1="965.36" x2="508.80" y2="965.36" stroke="#222" stroke-width="1.6" />
<line x1="118.90" y1="1012.08" x2="508.80" y2="1012.08" stroke="#222" stroke-width="1.6" />
<line x1="118.75" y1="1060.00" x2="508.50" y2="1060.00" stroke="#000" stroke-width="1.8" />
<line x1="129.65" y1="1060.00" x2="129.65" y2="1064.80" stroke="#000" stroke-width="1.7" />
<text x="121.23" y="1077.20" font-size="9.3" font-weight="normal" fill="#222" stroke="#222" stroke-width="0.08" textLength="16.83" lengthAdjust="spacingAndGlyphs">0.25</text>
<line x1="164.00" y1="1060.00" x2="164.00" y2="1064.80" stroke="#000" stroke-width="1.7" />
<text x="155.58" y="1077.20" font-size="9.3" font-weight="normal" fill="#222" stroke="#222" stroke-width="0.08" textLength="16.83" lengthAdjust="spacingAndGlyphs">0.50</text>
<line x1="198.35" y1="1060.00" x2="198.35" y2="1064.80" stroke="#000" stroke-width="1.7" />
<text x="189.93" y="1077.20" font-size="9.3" font-weight="normal" fill="#222" stroke="#222" stroke-width="0.08" textLength="16.83" lengthAdjust="spacingAndGlyphs">1.00</text>
<line x1="232.70" y1="1060.00" x2="232.70" y2="1064.80" stroke="#000" stroke-width="1.7" />
<text x="224.28" y="1077.20" font-size="9.3" font-weight="normal" fill="#222" stroke="#222" stroke-width="0.08" textLength="16.83" lengthAdjust="spacingAndGlyphs">2.00</text>
<line x1="267.05" y1="1060.00" x2="267.05" y2="1064.80" stroke="#000" stroke-width="1.7" />
<text x="258.63" y="1077.20" font-size="9.3" font-weight="normal" fill="#222" stroke="#222" stroke-width="0.08" textLength="16.83" lengthAdjust="spacingAndGlyphs">4.00</text>
<line x1="301.40" y1="1060.00" x2="301.40" y2="1064.80" stroke="#000" stroke-width="1.7" />
<text x="292.98" y="1077.20" font-size="9.3" font-weight="normal" fill="#222" stroke="#222" stroke-width="0.08" textLength="16.83" lengthAdjust="spacingAndGlyphs">8.00</text>
<line x1="335.75" y1="1060.00" x2="335.75" y2="1064.80" stroke="#000" stroke-width="1.7" />
<text x="324.93" y="1077.20" font-size="9.3" font-weight="normal" fill="#222" stroke="#222" stroke-width="0.08" textLength="21.64" lengthAdjust="spacingAndGlyphs">16.00</text>
<text x="220.80" y="1093.90" font-size="11.7" font-weight="normal" fill="#2a2a2a" stroke="#2a2a2a" stroke-width="0.08" textLength="12.20" lengthAdjust="spacingAndGlyphs">HR</text>
<text x="11.30" y="780.93" font-size="9.2" font-weight="bold" fill="#A50034" stroke="#A50034" stroke-width="0.3" textLength="25.70" lengthAdjust="spacingAndGlyphs">HLA-A</text>
<text x="11.30" y="792.41" font-size="8.4" font-weight="normal" fill="#A50034" stroke="#A50034" stroke-width="0.08" textLength="9.40" lengthAdjust="spacingAndGlyphs">TT</text>
<text x="353.58" y="793.16" font-size="9.1" font-weight="normal" fill="#1a1a1a" stroke="#1a1a1a" stroke-width="0.08" textLength="38.84" lengthAdjust="spacingAndGlyphs">Reference</text>
<text x="464.24" y="793.16" font-size="9.1" font-weight="normal" fill="#1a1a1a" stroke="#1a1a1a" stroke-width="0.08" textLength="18.73" lengthAdjust="spacingAndGlyphs">1704</text>
<rect x="195.65" y="787.46" width="5.4" height="5.4" fill="#A50034"/>
<text x="11.30" y="804.09" font-size="8.4" font-weight="normal" fill="#A50034" stroke="#A50034" stroke-width="0.08" textLength="12.30" lengthAdjust="spacingAndGlyphs">MT</text>
<text x="329.02" y="804.84" font-size="9.1" font-weight="normal" fill="#1a1a1a" stroke="#1a1a1a" stroke-width="0.08" textLength="87.97" lengthAdjust="spacingAndGlyphs">1.16 ( 0.97 - 1.39 ) , .10</text>
<text x="464.55" y="804.84" font-size="9.1" font-weight="normal" fill="#1a1a1a" stroke="#1a1a1a" stroke-width="0.08" textLength="18.10" lengthAdjust="spacingAndGlyphs">1165</text>
<line x1="196.84" y1="801.84" x2="214.67" y2="801.84" stroke="#A50034" stroke-width="1.4" />
<rect x="203.01" y="799.14" width="5.4" height="5.4" fill="#A50034"/>
<text x="11.30" y="815.77" font-size="8.4" font-weight="normal" fill="#A50034" stroke="#A50034" stroke-width="0.08" textLength="14.90" lengthAdjust="spacingAndGlyphs">MM</text>
<text x="329.02" y="816.52" font-size="9.1" font-weight="normal" fill="#1a1a1a" stroke="#1a1a1a" stroke-width="0.08" textLength="87.97" lengthAdjust="spacingAndGlyphs">1.32 ( 0.95 - 1.82 ) , .10</text>
<text x="466.58" y="816.52" font-size="9.1" font-weight="normal" fill="#1a1a1a" stroke="#1a1a1a" stroke-width="0.08" textLength="14.04" lengthAdjust="spacingAndGlyphs">209</text>
<line x1="195.81" y1="813.52" x2="228.03" y2="813.52" stroke="#A50034" stroke-width="1.4" />
<rect x="209.41" y="810.82" width="5.4" height="5.4" fill="#A50034"/>
<text x="11.30" y="827.65" font-size="9.2" font-weight="bold" fill="#25468A" stroke="#25468A" stroke-width="0.3" textLength="92.00" lengthAdjust="spacingAndGlyphs">HLA-B Leader-Matched</text>
<text x="11.30" y="839.13" font-size="8.4" font-weight="normal" fill="#25468A" stroke="#25468A" stroke-width="0.08" textLength="9.40" lengthAdjust="spacingAndGlyphs">TT</text>
<text x="353.58" y="839.88" font-size="9.1" font-weight="normal" fill="#1a1a1a" stroke="#1a1a1a" stroke-width="0.08" textLength="38.84" lengthAdjust="spacingAndGlyphs">Reference</text>
<text x="466.58" y="839.88" font-size="9.1" font-weight="normal" fill="#1a1a1a" stroke="#1a1a1a" stroke-width="0.08" textLength="14.04" lengthAdjust="spacingAndGlyphs">666</text>
<circle cx="198.35" cy="836.88" r="2.6" fill="#25468A"/>
<text x="11.30" y="850.81" font-size="8.4" font-weight="normal" fill="#25468A" stroke="#25468A" stroke-width="0.08" textLength="12.30" lengthAdjust="spacingAndGlyphs">MT</text>
<text x="329.02" y="851.56" font-size="9.1" font-weight="normal" fill="#1a1a1a" stroke="#1a1a1a" stroke-width="0.08" textLength="87.97" lengthAdjust="spacingAndGlyphs">1.36 ( 0.99 - 1.88 ) , .06</text>
<text x="466.58" y="851.56" font-size="9.1" font-weight="normal" fill="#1a1a1a" stroke="#1a1a1a" stroke-width="0.08" textLength="14.04" lengthAdjust="spacingAndGlyphs">448</text>
<line x1="197.85" y1="848.56" x2="229.63" y2="848.56" stroke="#25468A" stroke-width="1.4" />
<circle cx="213.59" cy="848.56" r="2.6" fill="#25468A"/>
<text x="11.30" y="862.49" font-size="8.4" font-weight="normal" fill="#25468A" stroke="#25468A" stroke-width="0.08" textLength="14.90" lengthAdjust="spacingAndGlyphs">MM</text>
<text x="329.02" y="863.24" font-size="9.1" font-weight="normal" fill="#1a1a1a" stroke="#1a1a1a" stroke-width="0.08" textLength="87.97" lengthAdjust="spacingAndGlyphs">0.84 ( 0.42 - 1.70 ) , .63</text>
<text x="468.92" y="863.24" font-size="9.1" font-weight="normal" fill="#1a1a1a" stroke="#1a1a1a" stroke-width="0.08" textLength="9.36" lengthAdjust="spacingAndGlyphs">62</text>
<line x1="155.36" y1="860.24" x2="224.65" y2="860.24" stroke="#25468A" stroke-width="1.4" />
<circle cx="189.71" cy="860.24" r="2.6" fill="#25468A"/>
<text x="11.30" y="874.37" font-size="9.2" font-weight="bold" fill="#4E1A6A" stroke="#4E1A6A" stroke-width="0.3" textLength="106.30" lengthAdjust="spacingAndGlyphs">HLA-B Leader-Mismatched</text>
<text x="11.30" y="885.85" font-size="8.4" font-weight="normal" fill="#4E1A6A" stroke="#4E1A6A" stroke-width="0.08" textLength="9.40" lengthAdjust="spacingAndGlyphs">TT</text>
<text x="353.58" y="886.60" font-size="9.1" font-weight="normal" fill="#1a1a1a" stroke="#1a1a1a" stroke-width="0.08" textLength="38.84" lengthAdjust="spacingAndGlyphs">Reference</text>
<text x="468.92" y="886.60" font-size="9.1" font-weight="normal" fill="#1a1a1a" stroke="#1a1a1a" stroke-width="0.08" textLength="9.36" lengthAdjust="spacingAndGlyphs">64</text>
<circle cx="198.35" cy="883.60" r="2.6" fill="#4E1A6A"/>
<text x="11.30" y="897.53" font-size="8.4" font-weight="normal" fill="#4E1A6A" stroke="#4E1A6A" stroke-width="0.08" textLength="12.30" lengthAdjust="spacingAndGlyphs">MT</text>
<text x="329.02" y="898.28" font-size="9.1" font-weight="normal" fill="#1a1a1a" stroke="#1a1a1a" stroke-width="0.08" textLength="87.97" lengthAdjust="spacingAndGlyphs">1.47 ( 0.59 - 3.64 ) , .41</text>
<text x="468.92" y="898.28" font-size="9.1" font-weight="normal" fill="#1a1a1a" stroke="#1a1a1a" stroke-width="0.08" textLength="9.36" lengthAdjust="spacingAndGlyphs">71</text>
<line x1="172.20" y1="895.28" x2="262.38" y2="895.28" stroke="#4E1A6A" stroke-width="1.4" />
<circle cx="217.44" cy="895.28" r="2.6" fill="#4E1A6A"/>
<text x="11.30" y="909.21" font-size="8.4" font-weight="normal" fill="#4E1A6A" stroke="#4E1A6A" stroke-width="0.08" textLength="14.90" lengthAdjust="spacingAndGlyphs">MM</text>
<text x="326.99" y="909.96" font-size="9.1" font-weight="normal" fill="#1a1a1a" stroke="#1a1a1a" stroke-width="0.08" textLength="92.03" lengthAdjust="spacingAndGlyphs">3.20 ( 0.90 - 11.32 ) , .07</text>
<text x="468.92" y="909.96" font-size="9.1" font-weight="normal" fill="#1a1a1a" stroke="#1a1a1a" stroke-width="0.08" textLength="9.36" lengthAdjust="spacingAndGlyphs">10</text>
<line x1="193.13" y1="906.96" x2="318.60" y2="906.96" stroke="#4E1A6A" stroke-width="1.4" />
<circle cx="255.99" cy="906.96" r="2.6" fill="#4E1A6A"/>
<text x="11.30" y="921.09" font-size="9.2" font-weight="bold" fill="#5A9F35" stroke="#5A9F35" stroke-width="0.3" textLength="25.20" lengthAdjust="spacingAndGlyphs">HLA-C</text>
<text x="11.30" y="932.57" font-size="8.4" font-weight="normal" fill="#5A9F35" stroke="#5A9F35" stroke-width="0.08" textLength="9.40" lengthAdjust="spacingAndGlyphs">TT</text>
<text x="353.58" y="933.32" font-size="9.1" font-weight="normal" fill="#1a1a1a" stroke="#1a1a1a" stroke-width="0.08" textLength="38.84" lengthAdjust="spacingAndGlyphs">Reference</text>
<text x="464.24" y="933.32" font-size="9.1" font-weight="normal" fill="#1a1a1a" stroke="#1a1a1a" stroke-width="0.08" textLength="18.73" lengthAdjust="spacingAndGlyphs">2141</text>
<polygon points="198.35,928.07 201.25,933.27 195.45,933.27" fill="#5A9F35"/>
<text x="11.30" y="944.25" font-size="8.4" font-weight="normal" fill="#5A9F35" stroke="#5A9F35" stroke-width="0.08" textLength="12.30" lengthAdjust="spacingAndGlyphs">MT</text>
<text x="329.02" y="945.00" font-size="9.1" font-weight="normal" fill="#1a1a1a" stroke="#1a1a1a" stroke-width="0.08" textLength="87.97" lengthAdjust="spacingAndGlyphs">1.10 ( 0.95 - 1.27 ) , .21</text>
<text x="464.24" y="945.00" font-size="9.1" font-weight="normal" fill="#1a1a1a" stroke="#1a1a1a" stroke-width="0.08" textLength="18.73" lengthAdjust="spacingAndGlyphs">1246</text>
<line x1="195.81" y1="942.00" x2="210.19" y2="942.00" stroke="#5A9F35" stroke-width="1.4" />
<polygon points="203.07,939.75 205.97,944.95 200.17,944.95" fill="#5A9F35"/>
<text x="11.30" y="955.93" font-size="8.4" font-weight="normal" fill="#5A9F35" stroke="#5A9F35" stroke-width="0.08" textLength="14.90" lengthAdjust="spacingAndGlyphs">MM</text>
<text x="329.02" y="956.68" font-size="9.1" font-weight="normal" fill="#1a1a1a" stroke="#1a1a1a" stroke-width="0.08" textLength="87.97" lengthAdjust="spacingAndGlyphs">0.99 ( 0.67 - 1.45 ) , .96</text>
<text x="466.58" y="956.68" font-size="9.1" font-weight="normal" fill="#1a1a1a" stroke="#1a1a1a" stroke-width="0.08" textLength="14.04" lengthAdjust="spacingAndGlyphs">131</text>
<line x1="178.50" y1="953.68" x2="216.76" y2="953.68" stroke="#5A9F35" stroke-width="1.4" />
<polygon points="197.85,951.43 200.75,956.63 194.95,956.63" fill="#5A9F35"/>
<text x="11.30" y="967.81" font-size="9.2" font-weight="bold" fill="#2F6A4C" stroke="#2F6A4C" stroke-width="0.3" textLength="41.80" lengthAdjust="spacingAndGlyphs">HLA-DRB1</text>
<text x="11.30" y="979.29" font-size="8.4" font-weight="normal" fill="#2F6A4C" stroke="#2F6A4C" stroke-width="0.08" textLength="9.40" lengthAdjust="spacingAndGlyphs">TT</text>
<text x="353.58" y="980.04" font-size="9.1" font-weight="normal" fill="#1a1a1a" stroke="#1a1a1a" stroke-width="0.08" textLength="38.84" lengthAdjust="spacingAndGlyphs">Reference</text>
<text x="466.58" y="980.04" font-size="9.1" font-weight="normal" fill="#1a1a1a" stroke="#1a1a1a" stroke-width="0.08" textLength="14.04" lengthAdjust="spacingAndGlyphs">437</text>
<circle cx="198.35" cy="977.04" r="2.7" fill="none" stroke="#2F6A4C" stroke-width="1.15"/>
<text x="11.30" y="990.97" font-size="8.4" font-weight="normal" fill="#2F6A4C" stroke="#2F6A4C" stroke-width="0.08" textLength="12.30" lengthAdjust="spacingAndGlyphs">MT</text>
<text x="329.02" y="991.72" font-size="9.1" font-weight="normal" fill="#1a1a1a" stroke="#1a1a1a" stroke-width="0.08" textLength="87.97" lengthAdjust="spacingAndGlyphs">0.77 ( 0.52 - 1.14 ) , .19</text>
<text x="466.58" y="991.72" font-size="9.1" font-weight="normal" fill="#1a1a1a" stroke="#1a1a1a" stroke-width="0.08" textLength="14.04" lengthAdjust="spacingAndGlyphs">264</text>
<line x1="165.94" y1="988.72" x2="204.84" y2="988.72" stroke="#2F6A4C" stroke-width="1.4" />
<circle cx="185.40" cy="988.72" r="2.7" fill="none" stroke="#2F6A4C" stroke-width="1.15"/>
<text x="11.30" y="1002.65" font-size="8.4" font-weight="normal" fill="#2F6A4C" stroke="#2F6A4C" stroke-width="0.08" textLength="14.90" lengthAdjust="spacingAndGlyphs">MM</text>
<text x="329.02" y="1003.40" font-size="9.1" font-weight="normal" fill="#1a1a1a" stroke="#1a1a1a" stroke-width="0.08" textLength="87.97" lengthAdjust="spacingAndGlyphs">1.67 ( 0.78 - 3.56 ) , .19</text>
<text x="468.92" y="1003.40" font-size="9.1" font-weight="normal" fill="#1a1a1a" stroke="#1a1a1a" stroke-width="0.08" textLength="9.36" lengthAdjust="spacingAndGlyphs">44</text>
<line x1="186.04" y1="1000.40" x2="261.27" y2="1000.40" stroke="#2F6A4C" stroke-width="1.4" />
<circle cx="223.76" cy="1000.40" r="2.7" fill="none" stroke="#2F6A4C" stroke-width="1.15"/>
<text x="11.30" y="1014.53" font-size="9.2" font-weight="bold" fill="#DE8B1F" stroke="#DE8B1F" stroke-width="0.3" textLength="43.20" lengthAdjust="spacingAndGlyphs">HLA-DQB1</text>
<text x="11.30" y="1026.01" font-size="8.4" font-weight="normal" fill="#DE8B1F" stroke="#DE8B1F" stroke-width="0.08" textLength="9.40" lengthAdjust="spacingAndGlyphs">TT</text>
<text x="353.58" y="1026.76" font-size="9.1" font-weight="normal" fill="#1a1a1a" stroke="#1a1a1a" stroke-width="0.08" textLength="38.84" lengthAdjust="spacingAndGlyphs">Reference</text>
<text x="464.24" y="1026.76" font-size="9.1" font-weight="normal" fill="#1a1a1a" stroke="#1a1a1a" stroke-width="0.08" textLength="18.73" lengthAdjust="spacingAndGlyphs">1002</text>
<polygon points="198.35,1020.16 201.95,1023.76 198.35,1027.36 194.75,1023.76" fill="none" stroke="#DE8B1F" stroke-width="1.1"/>
<text x="11.30" y="1037.69" font-size="8.4" font-weight="normal" fill="#DE8B1F" stroke="#DE8B1F" stroke-width="0.08" textLength="12.30" lengthAdjust="spacingAndGlyphs">MT</text>
<text x="329.02" y="1038.44" font-size="9.1" font-weight="normal" fill="#1a1a1a" stroke="#1a1a1a" stroke-width="0.08" textLength="87.97" lengthAdjust="spacingAndGlyphs">0.92 ( 0.74 - 1.15 ) , .48</text>
<text x="466.58" y="1038.44" font-size="9.1" font-weight="normal" fill="#1a1a1a" stroke="#1a1a1a" stroke-width="0.08" textLength="14.04" lengthAdjust="spacingAndGlyphs">926</text>
<line x1="183.43" y1="1035.44" x2="205.28" y2="1035.44" stroke="#DE8B1F" stroke-width="1.4" />
<polygon points="194.22,1031.84 197.82,1035.44 194.22,1039.04 190.62,1035.44" fill="none" stroke="#DE8B1F" stroke-width="1.1"/>
<text x="11.30" y="1049.37" font-size="8.4" font-weight="normal" fill="#DE8B1F" stroke="#DE8B1F" stroke-width="0.08" textLength="14.90" lengthAdjust="spacingAndGlyphs">MM</text>
<text x="329.02" y="1050.12" font-size="9.1" font-weight="normal" fill="#1a1a1a" stroke="#1a1a1a" stroke-width="0.08" textLength="87.97" lengthAdjust="spacingAndGlyphs">1.27 ( 0.88 - 1.84 ) , .21</text>
<text x="466.58" y="1050.12" font-size="9.1" font-weight="normal" fill="#1a1a1a" stroke="#1a1a1a" stroke-width="0.08" textLength="14.04" lengthAdjust="spacingAndGlyphs">194</text>
<line x1="192.02" y1="1047.12" x2="228.57" y2="1047.12" stroke="#DE8B1F" stroke-width="1.4" />
<polygon points="210.19,1043.52 213.79,1047.12 210.19,1050.72 206.59,1047.12" fill="none" stroke="#DE8B1F" stroke-width="1.1"/>
<rect x="0" y="0" width="520" height="1.5" fill="#000"/>
<rect x="0" y="0" width="1.7" height="1108" fill="#000"/>
<rect x="518.1" y="0" width="1.9" height="1108" fill="#000"/>
<rect x="0" y="1105.9" width="520" height="2.1" fill="#000"/>
</svg>
</body></html>
